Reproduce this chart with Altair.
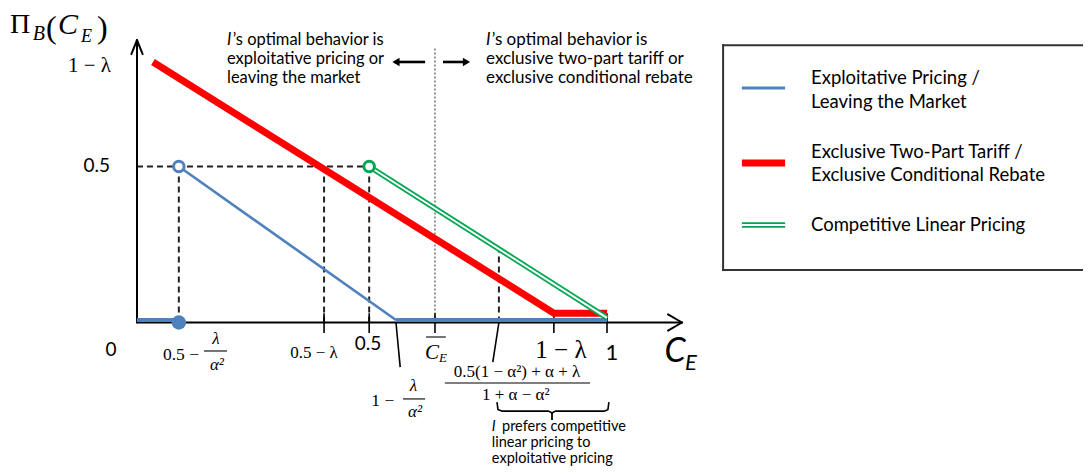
import altair as alt
import pandas as pd

# ---------------- values ----------------
# Exclusive two-part tariff / exclusive conditional rebate (red)
red_x = [0.034, 0.887, 1.0]
red_y = [0.835, 0.030, 0.030]

# Exploitative pricing / leaving the market (blue) - three pieces
blue_seg = ["low", "low", "diag", "diag", "high", "high"]
blue_x = [0.0, 0.089, 0.089, 0.551, 0.551, 1.0]
blue_y = [0.008, 0.008, 0.5, 0.008, 0.008, 0.008]

# Competitive linear pricing (green, double line)
green_x = [0.494, 1.0]
green_y = [0.5, 0.015]

# key abscissae on the C_E axis
key_names = ["0.5-l/a2", "0.5-l", "0.5", "1-l/a2", "CE_bar", "frac", "1-l", "1"]
key_x = [0.089, 0.398, 0.494, 0.551, 0.634, 0.770, 0.887, 1.0]
K = dict(zip(key_names, key_x))
level_half = 0.5
green_at_frac = 0.232

# open / filled circles
open_x = [0.089, 0.494]
open_y = [0.5, 0.5]
open_series = ["blue", "green"]
filled_x = [0.089]
filled_y = [0.0]

# legend
legend_names = ["Exploitative Pricing /\nLeaving the Market",
                "Exclusive Two-Part Tariff /\nExclusive Conditional Rebate",
                "Competitive Linear Pricing"]

# ---------------- styles ----------------
BLUE = "#4F81BD"
RED = "#FF0000"
GREEN = "#00A651"
SANS = "Lato"
SERIF = "Liberation Serif"

W, H = 1075, 458
XDOM = [-0.274468, 2.012766]
YDOM = [-0.45994, 1.00801]
X = alt.X("x:Q", scale=alt.Scale(domain=XDOM, nice=False, zero=False), axis=None)
Y = alt.Y("y:Q", scale=alt.Scale(domain=YDOM, nice=False, zero=False), axis=None)


def rules(rows, color="black", width=1.5, dash=None, cap="butt", opacity=1):
    df = pd.DataFrame(rows, columns=["x", "y", "x2", "y2"])
    kw = dict(color=color, strokeWidth=width, strokeCap=cap, opacity=opacity)
    if dash:
        kw["strokeDash"] = dash
    return alt.Chart(df).mark_rule(**kw).encode(x=X, y=Y, x2="x2:Q", y2="y2:Q")


def lines(xs, ys, segs, color, width, join="miter", cap="butt"):
    df = pd.DataFrame({"x": xs, "y": ys, "seg": segs, "i": range(len(xs))})
    return alt.Chart(df).mark_line(color=color, strokeWidth=width, strokeJoin=join,
                                   strokeCap=cap).encode(
        x=X, y=Y, detail="seg:N", order="i:Q")


def text(rows, font, size, style="normal", align="center", baseline="middle", color="black"):
    df = pd.DataFrame(rows, columns=["text", "x", "y"])
    return alt.Chart(df).mark_text(font=font, fontSize=size, fontStyle=style, align=align,
                                   baseline=baseline, color=color).encode(
        x=X, y=Y, text="text:N")


layers = []

# guides
layers.append(rules([
    (0.0, level_half, K["0.5"], level_half),
    (K["0.5-l/a2"], 0.0, K["0.5-l/a2"], level_half),
    (K["0.5-l"], 0.0, K["0.5-l"], level_half),
    (K["0.5"], 0.0, K["0.5"], level_half),
    (K["frac"], 0.0, K["frac"], green_at_frac),
], color="#222222", width=2, dash=[6, 4]))
layers.append(rules([(K["CE_bar"], 0.0, K["CE_bar"], 0.883)], color="#555555", width=1.2, dash=[2, 2]))

# axes with open arrowheads
layers.append(rules([
    (0.0, 0.0, 1.1596, 0.0),
    (0.0, 0.0, 0.0, 0.905),
    (1.1596, 0.0, 1.1298, 0.026), (1.1596, 0.0, 1.1298, -0.026),
    (0.0, 0.905, -0.012, 0.860), (0.0, 0.905, 0.012, 0.860),
], width=2, cap="round"))

# ticks and leaders
layers.append(rules([(K[k], -0.034, K[k], 0.03) for k in ["0.5-l", "0.5", "CE_bar", "1-l", "1"]]
                    + [(K["1-l/a2"], 0.0, 0.560, -0.143), (K["frac"], 0.0, 0.757, -0.127)],
                    width=1.6))

# curves
layers.append(lines(blue_x[2:4], blue_y[2:4], blue_seg[2:4], BLUE, 2.6))
layers.append(lines(blue_x[:2] + blue_x[4:], blue_y[:2] + blue_y[4:], blue_seg[:2] + blue_seg[4:], BLUE, 4))
layers.append(lines(red_x, red_y, ["r"] * 3, RED, 7))
layers.append(lines(green_x, green_y, ["g"] * 2, GREEN, 5.5))
layers.append(lines(green_x, green_y, ["g"] * 2, "white", 2))

# circles
odf = pd.DataFrame({"x": open_x, "y": open_y, "s": open_series})
layers.append(alt.Chart(odf).mark_point(filled=False, size=110, strokeWidth=3, fill="white",
                                        fillOpacity=1, opacity=1).encode(
    x=X, y=Y, color=alt.Color("s:N", scale=alt.Scale(domain=["blue", "green"], range=[BLUE, GREEN]),
                              legend=None)))
layers.append(alt.Chart(pd.DataFrame({"x": filled_x, "y": filled_y})).mark_circle(
    size=210, color=BLUE, opacity=1).encode(x=X, y=Y))

# direction arrows
layers.append(rules([(0.549, 0.835, 0.613, 0.835), (0.651, 0.835, 0.703, 0.835)], width=2.6))
adf = pd.DataFrame({"x": [0.551, 0.701], "y": [0.835, 0.835], "shape": ["triangle-left", "triangle-right"]})
layers.append(alt.Chart(adf).mark_point(filled=True, color="black", size=70, opacity=1).encode(
    x=X, y=Y, shape=alt.Shape("shape:N", scale=None)))

# brace
layers.append(lines([0.766, 0.768, 0.776, 0.876, 0.883, 0.883, 0.890, 0.995, 1.002, 1.004],
                    [-0.255, -0.279, -0.284, -0.284, -0.290, -0.290, -0.284, -0.284, -0.279, -0.255],
                    ["a"] * 5 + ["b"] * 5, "black", 1.6, join="round"))
layers.append(rules([(0.883, -0.290, 0.883, -0.3125)], width=1.8))

# C_E bar overline and fraction bars
layers.append(rules([(0.615, -0.0465, 0.657, -0.0465),
                     (0.1426, -0.0913, 0.1915, -0.0913),
                     (0.566, -0.245, 0.613, -0.245),
                     (0.655, -0.1939, 0.964, -0.1939)], width=1.1))

# ----- y-axis title  Π_B(C_E)
layers.append(text([("Π", -0.270, 0.928)], SERIF, 28, align="left", baseline="alphabetic"))
layers.append(text([("B", -0.222, 0.905)], SERIF, 20, style="italic", align="left", baseline="alphabetic"))
layers.append(text([("(", -0.1936, 0.912), (")", -0.0851, 0.912)], SERIF, 32, align="left",
                   baseline="alphabetic"))
layers.append(text([("C", -0.168, 0.9247)], SERIF, 30, style="italic", align="left", baseline="alphabetic"))
layers.append(text([("E", -0.1191, 0.899)], SERIF, 18, style="italic", align="left", baseline="alphabetic"))

# y labels
layers.append(text([("1 − λ", -0.0553, 0.822)], SERIF, 21, align="right"))
layers.append(text([("0.5", -0.0574, 0.5)], SANS, 19, align="right"))
layers.append(text([("0", -0.0553, -0.088)], SANS, 19))

# x labels
layers.append(text([("0.5 −", 0.0936, -0.104), ("1 −", 0.523, -0.2516)], SERIF, 17.5))
layers.append(text([("λ", 0.168, -0.053), ("α²", 0.170, -0.136),
                    ("λ", 0.588, -0.2035), ("α²", 0.5915, -0.287)], SERIF, 17, style="italic"))
layers.append(text([("0.5 − λ", 0.3766, -0.0978)], SERIF, 17))
layers.append(text([("0.5", 0.4915, -0.0689)], SANS, 19))
layers.append(text([("C", 0.6277, -0.0978)], SERIF, 21, style="italic"))
layers.append(text([("E", 0.651, -0.1138)], SERIF, 13, style="italic"))
layers.append(text([("0.5(1 − α²) + α + λ", 0.8085, -0.1587), ("1 + α − α²", 0.806, -0.2324)], SERIF, 17))
layers.append(text([("1 − λ", 0.902, -0.088)], SERIF, 25))
layers.append(text([("1", 1.0106, -0.0978)], SANS, 22))
layers.append(text([("C", 1.1447, -0.0946)], SANS, 34, style="italic"))
layers.append(text([("E", 1.1785, -0.1298)], SANS, 22, style="italic"))

# annotations
layers.append(text([("I", 0.1915, 0.905)], SANS, 16.5, style="italic", align="left"))
layers.append(text([
    ("’s optimal behavior is", 0.2035, 0.905),
    ("exploitative pricing or", 0.1915, 0.8446),
    ("leaving the market", 0.1915, 0.7837),
], SANS, 16.5, align="left"))
layers.append(text([("I", 0.7426, 0.905)], SANS, 17, style="italic", align="left"))
layers.append(text([
    ("’s optimal behavior is", 0.7546, 0.905),
    ("exclusive two-part tariff or", 0.7426, 0.8446),
    ("exclusive conditional rebate", 0.7426, 0.7837),
], SANS, 17, align="left"))
layers.append(text([("I", 0.755, -0.3349)], SANS, 14.5, style="italic", align="left"))
layers.append(text([
    ("prefers competitive", 0.7766, -0.3349),
    ("linear pricing to", 0.755, -0.3862),
    ("exploitative pricing", 0.755, -0.4375),
], SANS, 14.5, align="left"))

# ----- legend box (manual, to show the double green line); right edge lies off the picture
layers.append(rules([(1.247, 0.889, 2.06, 0.889), (1.247, 0.168, 2.06, 0.168), (1.247, 0.889, 1.247, 0.168)],
                    color="#333333", width=2, cap="square"))
layers.append(rules([(1.287, 0.7516, 1.379, 0.7516)], color=BLUE, width=3))
layers.append(rules([(1.287, 0.511, 1.379, 0.511)], color=RED, width=7))
layers.append(rules([(1.287, 0.3125, 1.379, 0.3125)], color=GREEN, width=5.5))
layers.append(rules([(1.287, 0.3125, 1.379, 0.3125)], color="white", width=2))
leg_rows = []
for name, ys in zip(legend_names, [(0.784, 0.707), (0.546, 0.473), (0.3125,)]):
    for part, yv in zip(name.split("\n"), ys):
        leg_rows.append((part, 1.434, yv))
layers.append(text(leg_rows, SANS, 18.5, align="left"))

chart = alt.layer(*layers).properties(
    width=W, height=H, autosize=alt.AutoSizeParams(type="none"), padding=0
).configure_view(stroke=None)

chart.save("out.html", embed_options={"renderer": "svg", "actions": False})
